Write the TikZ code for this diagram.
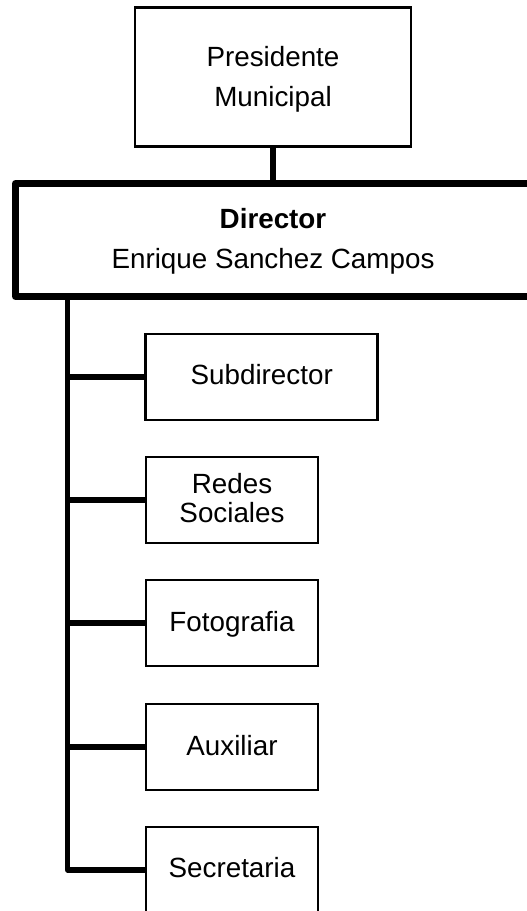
\documentclass[tikz,border=0pt]{standalone}
\usepackage{fontspec}
\setmainfont{Liberation Sans}
\newcommand{\tallen}[1]{\rule{0pt}{#1}}
\newcommand{\deepen}[1]{\rule[-#1]{0pt}{0pt}}
\tikzset{x=0.75pt,y=-0.75pt,
 box/.style={draw=black,line width=2.1pt,fill=white,align=center,inner sep=0pt,outer sep=0pt,
   font=\fontsize{20.85}{30}\selectfont},
 staff/.style={box,minimum width=172*0.75pt,minimum height=86*0.75pt,font=\fontsize{20.85}{21.75}\selectfont},
 wire/.style={draw=black,line width=4pt,line join=round},
 headbox/.style={box,line width=5.25pt,line join=round}}
\begin{document}
\begin{tikzpicture}
\useasboundingbox (0,0) rectangle (527,911);
\node[box,minimum width=276*0.75pt,minimum height=139*0.75pt] (pres) at (273,77) {\tallen{17.9pt}Presidente\\Municipal};
\node[headbox,minimum width=515*0.75pt,minimum height=113*0.75pt] (dir) at (273,240) {\tallen{17pt}\textbf{Director}\\Enrique Sanchez Campos};
\node[staff,minimum width=232*0.75pt] (sub) at (261.7,377) {Subdirector\deepen{4pt}};
\node[staff] (red) at (232,500) {Redes\\Sociales\deepen{3.4pt}};
\node[staff] (fot) at (232,623) {\tallen{17.4pt}Fotografia};
\node[staff] (aux) at (232,747) {Auxiliar\deepen{3pt}};
\node[staff] (sec) at (232,870) {Secretaria\deepen{4pt}};
\coordinate (spine) at (67.7,296.5);
\draw[wire,line width=4.2pt] (pres.south) -- (dir.north);
\draw[wire] (spine) |- (sec.west);
\draw[wire] (sub.west -| spine) -- (sub.west);
\draw[wire] (red.west -| spine) -- (red.west);
\draw[wire] (fot.west -| spine) -- (fot.west);
\draw[wire] (aux.west -| spine) -- (aux.west);
\end{tikzpicture}
\end{document}
